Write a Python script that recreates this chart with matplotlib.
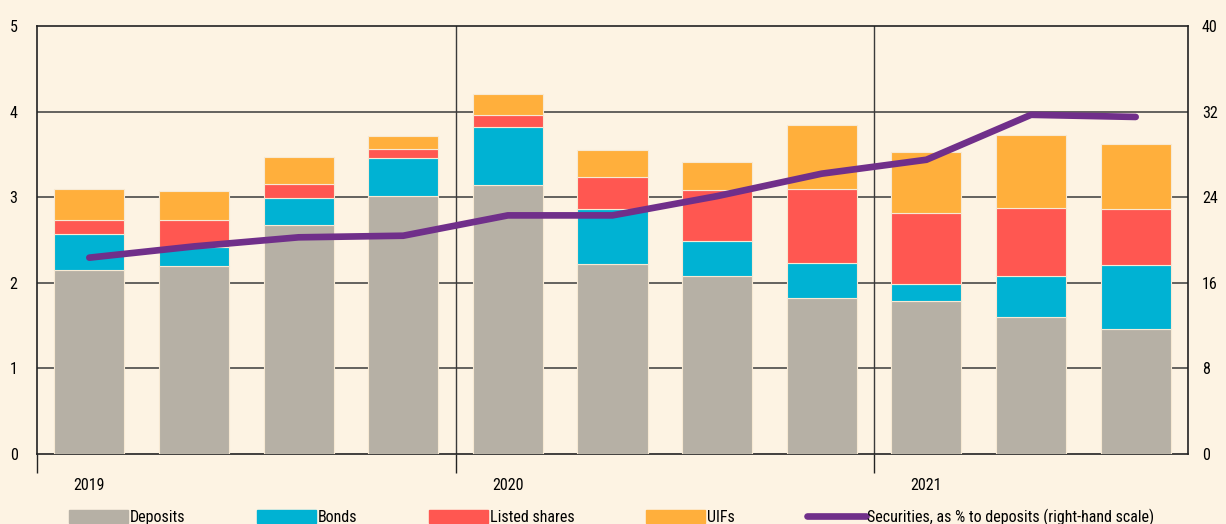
import numpy as np
import matplotlib.pyplot as plt
import matplotlib.font_manager as fm
from matplotlib.patches import Patch
from matplotlib.lines import Line2D

# pick a narrow face if one is installed
names = {f.name for f in fm.fontManager.ttflist}
narrow = [n for n in ["Liberation Sans Narrow", "DejaVu Sans Condensed",
                      "Roboto Condensed", "Open Sans Condensed"] if n in names]
if narrow:
    plt.rcParams["font.family"] = [narrow[0], "DejaVu Sans"]
    fs, colsp = 11.5, 4.5
else:
    plt.rcParams["font.family"] = ["DejaVu Sans"]
    plt.rcParams["font.stretch"] = "condensed"
    fs, colsp = 10.5, 2.6

# quarterly values, 2019 Q1 .. 2021 Q3
deposits = [2.15, 2.20, 2.68, 3.01, 3.14, 2.22, 2.08, 1.82, 1.79, 1.60, 1.46]
bonds = [0.42, 0.22, 0.31, 0.45, 0.68, 0.64, 0.41, 0.41, 0.20, 0.48, 0.75]
shares = [0.16, 0.31, 0.17, 0.10, 0.14, 0.38, 0.59, 0.87, 0.83, 0.79, 0.65]
uifs = [0.37, 0.34, 0.31, 0.15, 0.24, 0.31, 0.33, 0.74, 0.71, 0.86, 0.76]
securities_pct = [18.35, 19.4, 20.25, 20.4, 22.3, 22.3, 24.1, 26.2, 27.5, 31.7, 31.5]
years = ["2019", "2020", "2021"]

bg = "#fdf3e3"
c_dep = "#b6b0a5"
c_bond = "#00b2d3"
c_share = "#ff5751"
c_uif = "#ffaf3c"
c_line = "#702f8a"

x = np.arange(len(deposits))

fig = plt.figure(figsize=(12.26, 5.24), dpi=100, facecolor=bg)
ax = fig.add_axes([37/1226, 1-454/524, (1188-37)/1226, (454-26)/524])
ax.set_facecolor(bg)

w = 0.67
edge = dict(edgecolor="#f7e9d3", linewidth=0.8)
b1 = np.array(deposits)
b2 = b1 + np.array(bonds)
b3 = b2 + np.array(shares)
ax.bar(x, deposits, w, color=c_dep, zorder=3, **edge)
ax.bar(x, bonds, w, bottom=b1, color=c_bond, zorder=3, **edge)
ax.bar(x, shares, w, bottom=b2, color=c_share, zorder=3, **edge)
ax.bar(x, uifs, w, bottom=b3, color=c_uif, zorder=3, **edge)

for yv in [1, 2, 3, 4]:
    ax.axhline(yv, color="#3a3a3a", lw=1.1, zorder=1)
for xv in [3.5, 7.5]:
    ax.axvline(xv, color="#3a3a3a", lw=1.0, zorder=1)

ax.set_xlim(-0.5, 10.5)
ax.set_ylim(0, 5)
ax.set_yticks([0, 1, 2, 3, 4, 5])
ax.tick_params(axis="y", length=0, pad=14, labelsize=11.5)
ax.set_xticks([-0.5, 3.5, 7.5])
ax.set_xticklabels([])
ax.tick_params(axis="x", which="major", length=14, width=1, color="#222222")
ax.set_xticks([0, 4, 8], minor=True)
ax.set_xticklabels(years, minor=True)
ax.tick_params(axis="x", which="minor", length=0, pad=17, labelsize=11.5)
for s in ax.spines.values():
    s.set_color("#222222")
    s.set_linewidth(1.2)

ax2 = ax.twinx()
ax2.plot(x, securities_pct, color=c_line, lw=4.8, solid_capstyle="round",
         solid_joinstyle="round", zorder=5)
ax2.set_ylim(0, 40)
ax2.set_yticks([0, 8, 16, 24, 32, 40])
ax2.tick_params(axis="y", length=0, pad=10, labelsize=11.5)
for s in ax2.spines.values():
    s.set_visible(False)

handles = [Patch(color=c_dep), Patch(color=c_bond), Patch(color=c_share),
           Patch(color=c_uif), Line2D([], [], color=c_line, lw=4.8, solid_capstyle="round")]
labels = ["Deposits", "Bonds", "Listed shares", "UIFs",
          "Securities, as % to deposits (right-hand scale)"]
fig.legend(handles, labels, loc="center left", bbox_to_anchor=(69/1226, 1-517/524),
           ncol=5, frameon=False, fontsize=fs, handlelength=3.7, handleheight=0.9,
           handletextpad=0.1, columnspacing=colsp, borderpad=0, borderaxespad=0)

fig.savefig("out.png", dpi=100, facecolor=bg)
